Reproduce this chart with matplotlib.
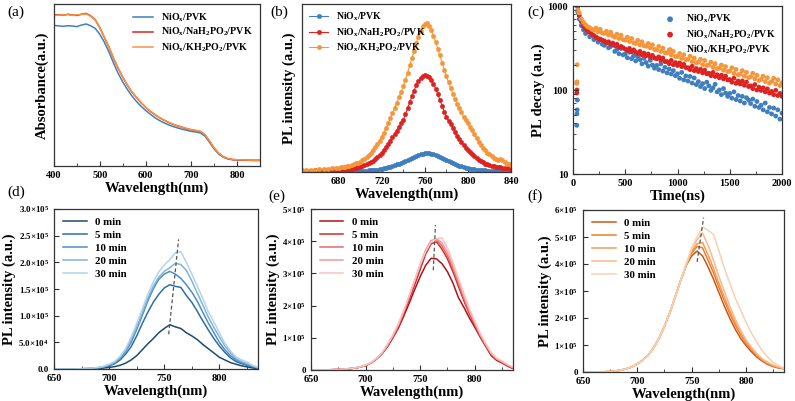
import numpy as np
import matplotlib.pyplot as plt
from matplotlib.ticker import MultipleLocator, LogLocator, NullFormatter

plt.rcParams['font.family'] = ['Liberation Serif', 'DejaVu Serif']
plt.rcParams['font.weight'] = 'bold'
plt.rcParams['axes.labelweight'] = 'bold'
plt.rcParams['mathtext.fontset'] = 'custom'
plt.rcParams['mathtext.rm'] = 'Liberation Serif:bold'
plt.rcParams['mathtext.bf'] = 'Liberation Serif:bold'
plt.rcParams['mathtext.it'] = 'Liberation Serif:bold:italic'

## ---- labels
lab_pvk = 'NiO$_\\mathrm{x}$/PVK'
lab_na = 'NiO$_\\mathrm{x}$/NaH$_\\mathrm{2}$PO$_\\mathrm{2}$/PVK'
lab_k = 'NiO$_\\mathrm{x}$/KH$_\\mathrm{2}$PO$_\\mathrm{2}$/PVK'
time_labels = ['0 min', '5 min', '10 min', '20 min', '30 min']

## ---- (a) absorbance
abs_wl = np.arange(400, 851, 10)
abs_pvk = [.864, .861, .858, .862, .86, .856, .866, .873, .862, .845,
           .808, .757, .695, .625, .56, .505, .458, .416, .381, .35,
           .324, .3, .278, .26, .245, .232, .221, .212, .204, .197,
           .19, .186, .18, .16, .12, .078, .046, .026, .015, .01,
           .008, .007, .006, .006, .005, .005]
abs_na = [.93, .932, .928, .935, .93, .927, .935, .94, .925, .9,
          .85, .787, .726, .655, .592, .536, .485, .441, .406, .373,
          .344, .318, .297, .278, .262, .247, .235, .225, .216, .207,
          .2, .195, .189, .168, .127, .083, .05, .028, .016, .011,
          .009, .008, .007, .006, .006, .006]
abs_k = [.926, .93, .93, .932, .928, .931, .933, .937, .922, .898,
         .851, .788, .727, .656, .593, .537, .486, .442, .407, .374,
         .345, .319, .298, .279, .263, .248, .236, .226, .217, .208,
         .201, .196, .19, .169, .128, .084, .051, .029, .017, .012,
         .01, .009, .008, .007, .007, .007]

## ---- (b) steady-state PL
pl_wl = np.concatenate([np.arange(646, 680, 4), np.arange(680, 841, 2)])
pl_pvk = [.003, .003, .003, .003, .003, .003, .003, .003, .003,
          .003, .003, .003, .004, .004, .004, .004, .005, .005, .006,
          .006, .007, .007, .008, .009, .01, .011, .012, .014, .016,
          .018, .021, .024, .027, .031, .035, .04, .045, .05, .055,
          .06, .066, .072, .078, .084, .09, .096, .101, .106, .11,
          .113, .114, .112, .109, .105, .1, .095, .089, .083, .077,
          .071, .065, .059, .053, .048, .043, .038, .034, .03, .026,
          .023, .02, .018, .016, .014, .012, .011, .01, .009, .008,
          .007, .007, .006, .006, .005, .005, .005, .005, .005, .004,
          .004]
pl_na = [.008, .008, .008, .009, .009, .01, .01, .011, .012,
         .012, .013, .014, .015, .016, .018, .019, .021, .024, .027,
         .03, .034, .039, .045, .052, .06, .068, .078, .089, .101,
         .115, .13, .147, .166, .186, .207, .225, .247, .27, .29,
         .31, .345, .38, .415, .45, .485, .515, .54, .558, .57,
         .576, .574, .565, .548, .525, .497, .465, .43, .395, .36,
         .33, .305, .283, .26, .237, .215, .195, .178, .16, .145,
         .13, .117, .105, .094, .083, .074, .065, .057, .05, .045,
         .04, .036, .033, .03, .028, .027, .025, .023, .022, .021,
         .02]
pl_k = [.012, .012, .013, .014, .015, .017, .019, .021, .023,
        .025, .027, .029, .031, .034, .037, .041, .046, .051, .056,
        .062, .07, .079, .089, .1, .115, .13, .147, .166, .187,
        .21, .235, .262, .29, .32, .35, .382, .413, .445, .477,
        .51, .55, .59, .635, .678, .72, .765, .805, .84, .867,
        .882, .884, .87, .845, .81, .775, .735, .695, .65, .61,
        .57, .535, .5, .465, .435, .405, .38, .355, .33, .31,
        .29, .27, .25, .225, .2, .18, .16, .145, .13, .115,
        .105, .094, .085, .077, .072, .075, .07, .058, .05, .046,
        .042]

## ---- (c) TRPL decay
rise_t_pvk = [36, 38, 40, 42, 46]
rise_pvk = [38, 52, 58, 76, 850]
rise_t_na = [36, 38, 44]
rise_na = [92, 100, 980]
rise_t_k = [36, 38, 40, 46]
rise_k = [120, 125, 200, 900]
decay_t = np.arange(60, 2001, 20)
decay_pvk = [700, 585,
             520, 470, 492, 430, 448,
             398, 425, 372, 405, 352,
             340, 362, 318, 330, 352,
             288, 305, 270, 312, 262,
             268, 242, 282, 236, 255,
             222, 248, 230, 205, 238,
             212, 192, 226, 198, 182,
             196, 175, 204, 168, 186,
             160, 178, 155, 170, 148,
             156, 138, 162, 132, 147,
             128, 145, 121, 139, 116,
             126, 110, 119, 104, 124,
             112, 99, 106, 117, 95,
             100, 88, 104, 92, 84,
             91, 80, 95, 77, 86,
             74, 84, 70, 81, 76,
             69, 78, 64, 73, 62,
             66, 58, 70, 55, 62,
             52, 61, 49, 58, 45,
             53]
decay_na = [770, 650,
            575, 540, 505, 486, 462,
            445, 425, 410, 398, 392,
            384, 366, 375, 350, 362,
            338, 350, 322, 330, 318,
            306, 296, 312, 285, 300,
            282, 270, 288, 262, 275,
            256, 268, 245, 258, 240,
            236, 248, 226, 240, 218,
            218, 206, 225, 200, 212,
            196, 210, 190, 202, 185,
            184, 175, 192, 170, 180,
            166, 176, 160, 172, 156,
            158, 148, 162, 145, 152,
            140, 150, 136, 146, 132,
            133, 124, 138, 120, 128,
            118, 128, 114, 124, 110,
            112, 104, 116, 100, 108,
            99, 106, 95, 103, 92,
            96, 88, 99, 86, 91,
            84]
decay_k = [830, 700,
           640, 598, 565, 550, 528,
           515, 545, 490, 528, 478,
           472, 500, 452, 488, 440,
           425, 462, 410, 448, 398,
           392, 425, 378, 410, 365,
           358, 390, 345, 375, 336,
           332, 358, 318, 345, 305,
           300, 330, 288, 315, 278,
           276, 298, 262, 288, 252,
           250, 272, 238, 262, 230,
           232, 252, 218, 240, 212,
           214, 232, 200, 224, 196,
           198, 214, 186, 206, 180,
           182, 198, 172, 190, 166,
           168, 184, 158, 176, 152,
           155, 170, 146, 162, 140,
           144, 158, 136, 150, 130,
           134, 146, 126, 140, 121,
           126, 138, 118, 132, 113,
           122]

## ---- (d)(e)(f) PL vs time, units of 1e5
t_wl = np.arange(650, 836, 5)
d_pl = [
    [0, 0, 0, 0, .002, .003, .004, .006, .01, .018,
     .03, .045, .07, .11, .17, .25, .36, .47, .57, .68,
     .76, .83, .79, .76, .68, .62, .55, .46, .38, .3,
     .22, .17, .12, .09, .06, .04, .02, .01],
    [0, 0, 0, 0, .002, .004, .007, .012, .02, .035,
     .06, .1, .17, .28, .42, .62, .85, 1.06, 1.25, 1.4,
     1.52, 1.58, 1.55, 1.53, 1.38, 1.25, 1.08, .9, .73, .57,
     .43, .31, .21, .14, .1, .07, .04, .02],
    [0, 0, 0, 0, .002, .005, .008, .014, .024, .04,
     .07, .12, .2, .33, .5, .74, 1.0, 1.27, 1.5, 1.68,
     1.78, 1.83, 1.78, 1.7, 1.58, 1.44, 1.27, 1.06, .86, .68,
     .5, .36, .25, .17, .12, .08, .05, .02],
    [0, 0, 0, 0, .002, .005, .009, .015, .026, .045,
     .08, .13, .22, .36, .55, .79, 1.05, 1.32, 1.55, 1.72,
     1.83, 1.9, 1.98, 1.96, 1.85, 1.65, 1.42, 1.2, .97, .78,
     .6, .43, .3, .2, .14, .1, .06, .02],
    [0, 0, 0, 0, .003, .006, .01, .017, .03, .05,
     .09, .14, .24, .38, .6, .85, 1.12, 1.4, 1.63, 1.82,
     1.95, 2.05, 2.18, 2.2, 2.0, 1.78, 1.55, 1.32, 1.07, .88,
     .68, .48, .34, .23, .17, .13, .07, .03],
]
e_pl = [
    [0, 0, .002, .005, .01, .015, .025, .04, .06, .09,
     .14, .22, .34, .5, .72, 1.0, 1.3, 1.68, 2.08, 2.5,
     2.9, 3.25, 3.47, 3.45, 3.3, 3.05, 2.7, 2.25, 1.95, 1.62,
     1.33, 1.02, .74, .45, .3, .22, .12, .05],
    [0, 0, .002, .005, .01, .016, .026, .041, .061, .092,
     .14, .22, .345, .51, .74, 1.03, 1.35, 1.75, 2.2, 2.65,
     3.12, 3.6, 3.92, 3.98, 3.75, 3.45, 3.05, 2.6, 2.15, 1.75,
     1.4, 1.05, .75, .48, .32, .24, .13, .05],
    [0, 0, .002, .005, .01, .016, .026, .042, .062, .094,
     .145, .225, .35, .52, .76, 1.05, 1.38, 1.8, 2.27, 2.75,
     3.25, 3.72, 4.02, 4.05, 3.85, 3.55, 3.15, 2.7, 2.22, 1.8,
     1.43, 1.08, .78, .5, .34, .25, .15, .07],
    [0, 0, .002, .005, .011, .017, .027, .043, .063, .095,
     .147, .228, .355, .525, .77, 1.06, 1.4, 1.82, 2.3, 2.78,
     3.27, 3.7, 4.0, 4.08, 3.95, 3.65, 3.25, 2.78, 2.3, 1.85,
     1.47, 1.1, .8, .52, .35, .26, .16, .08],
    [0, 0, .002, .006, .011, .018, .028, .045, .066, .1,
     .152, .235, .365, .54, .8, 1.1, 1.44, 1.86, 2.33, 2.8,
     3.28, 3.68, 3.98, 4.08, 4.1, 3.78, 3.35, 2.85, 2.38, 1.92,
     1.52, 1.14, .83, .55, .37, .28, .17, .08],
]
f_pl = [
    [0, 0, 0, .005, .01, .02, .04, .07, .12, .19,
     .3, .44, .62, .9, 1.25, 1.7, 2.2, 2.8, 3.4, 3.95,
     4.3, 4.48, 4.3, 3.9, 3.45, 2.95, 2.45, 2.0, 1.6, 1.25,
     .98, .75, .55, .4, .28, .2, .15, .12],
    [0, 0, 0, .005, .01, .02, .04, .07, .12, .19,
     .3, .44, .62, .9, 1.25, 1.7, 2.2, 2.8, 3.4, 3.96,
     4.4, 4.65, 4.6, 4.15, 3.68, 3.15, 2.65, 2.17, 1.75, 1.38,
     1.07, .82, .6, .43, .3, .22, .16, .12],
    [0, 0, 0, .005, .01, .02, .04, .07, .12, .19,
     .3, .44, .62, .9, 1.25, 1.7, 2.2, 2.8, 3.4, 3.97,
     4.45, 4.75, 4.8, 4.35, 3.85, 3.3, 2.78, 2.28, 1.84, 1.45,
     1.12, .86, .63, .45, .32, .23, .17, .13],
    [0, 0, 0, .005, .01, .02, .04, .07, .12, .19,
     .3, .44, .62, .9, 1.25, 1.7, 2.2, 2.8, 3.4, 3.98,
     4.55, 4.9, 5.15, 4.7, 4.15, 3.55, 3.0, 2.45, 1.97, 1.55,
     1.2, .92, .68, .49, .36, .26, .19, .14],
    [0, 0, 0, .005, .01, .02, .04, .07, .12, .19,
     .3, .44, .62, .9, 1.25, 1.7, 2.2, 2.8, 3.4, 4.0,
     4.6, 5.0, 5.37, 5.25, 5.1, 4.5, 3.85, 3.3, 2.75, 2.3,
     1.85, 1.45, 1.1, .78, .55, .36, .25, .12],
]
## peak shift guide lines
d_guide_x, d_guide_y = [754, 763], [0.65, 2.43]
e_guide_x, e_guide_y = [762, 764], [3.1, 4.5]
f_guide_x, f_guide_y = [755, 761], [4.08, 5.72]

d_yticks = [0, 0.5, 1, 1.5, 2, 2.5, 3]
d_ylabels = ['0.0', '5.0\u00d710$^\\mathrm{4}$', '1.0\u00d710$^\\mathrm{5}$', '1.5\u00d710$^\\mathrm{5}$',
             '2.0\u00d710$^\\mathrm{5}$', '2.5\u00d710$^\\mathrm{5}$', '3.0\u00d710$^\\mathrm{5}$']
e_yticks = [0, 1, 2, 3, 4, 5]
e_ylabels = ['0'] + ['%d\u00d710$^\\mathrm{5}$' % v for v in e_yticks[1:]]
f_yticks = [0, 1, 2, 3, 4, 5, 6]
f_ylabels = ['0'] + ['%d\u00d710$^\\mathrm{5}$' % v for v in f_yticks[1:]]

blue = '#3f7fc0'
red = '#dd2222'
orange = '#f5963a'
d_colors = ['#1d4a70', '#2f6ea5', '#4d8ec4', '#80b3da', '#b2d4ec']
e_colors = ['#b01218', '#d42a2c', '#e8696b', '#f09c9b', '#f6c4c2']
f_colors = ['#c9571b', '#ef7c27', '#f39c58', '#f6b98a', '#f9d1b2']

W, H = 795, 401


def box(l, t, r, b):
    return [l / W, 1 - b / H, (r - l) / W, (b - t) / H]


def style(ax):
    for s in ax.spines.values():
        s.set_color('#333333')
        s.set_linewidth(0.9)
    ax.tick_params(which='both', direction='in', labelsize=7.5, color='#333333')
    ax.tick_params(which='major', length=3.5)
    ax.tick_params(which='minor', length=2)


fig = plt.figure(figsize=(7.95, 4.01), dpi=100)

# (a)
ax = fig.add_axes(box(54, 4, 260, 166))
ax.plot(abs_wl, abs_pvk, color=blue, lw=1.1, label=lab_pvk)
ax.plot(abs_wl, abs_na, color=red, lw=1.1, label=lab_na)
ax.plot(abs_wl, abs_k, color=orange, lw=1.1, label=lab_k)
ax.set_xlim(400, 850)
ax.set_ylim(-0.03, 1.0)
ax.xaxis.set_major_locator(MultipleLocator(100))
ax.xaxis.set_minor_locator(MultipleLocator(50))
ax.set_yticks([])
style(ax)
ax.set_xlabel('Wavelength(nm)', fontsize=10.5, labelpad=1)
ax.set_ylabel('Absorbance(a.u.)', fontsize=10.5, labelpad=4)
ax.legend(loc='upper right', frameon=False, fontsize=7.2, handlelength=2.0,
          labelspacing=0.25, borderaxespad=0.3)

# (b)
ax = fig.add_axes(box(302, 4, 511, 172))
for y, c, lab in [(pl_pvk, blue, lab_pvk), (pl_na, red, lab_na), (pl_k, orange, lab_k)]:
    ax.plot(pl_wl, y, color=c, lw=0.8, marker='o', ms=3.2, mec=c, mfc=c, mew=0.3, label=lab)
ax.set_xlim(646, 840)
ax.set_ylim(0, 1)
ax.xaxis.set_major_locator(MultipleLocator(40))
ax.xaxis.set_minor_locator(MultipleLocator(20))
ax.set_yticks([])
style(ax)
ax.set_xlabel('Wavelength(nm)', fontsize=10.5, labelpad=1)
ax.set_ylabel('PL intensity (a.u.)', fontsize=10.5, labelpad=4)
ax.legend(loc='upper left', frameon=False, fontsize=7, handlelength=2.0,
          labelspacing=0.3, borderaxespad=0.3)

# (c)
ax = fig.add_axes(box(573, 6, 782, 174))
for tr, vr, td, vd, c, lab in [(rise_t_pvk, rise_pvk, decay_t, decay_pvk, blue, lab_pvk),
                               (rise_t_na, rise_na, decay_t, decay_na, red, lab_na),
                               (rise_t_k, rise_k, decay_t, decay_k, orange, lab_k)]:
    ax.scatter(np.concatenate([tr, td]), np.concatenate([vr, vd]), s=12, color=c,
               edgecolors='none', label=lab)
ax.set_yscale('log')
ax.set_xlim(0, 2000)
ax.set_ylim(10, 1000)
ax.xaxis.set_major_locator(MultipleLocator(500))
ax.xaxis.set_minor_locator(MultipleLocator(250))
ax.yaxis.set_minor_locator(LogLocator(base=10, subs=np.arange(2, 10)))
ax.yaxis.set_minor_formatter(NullFormatter())
ax.set_yticks([10, 100, 1000])
ax.set_yticklabels(['10', '100', '1000'])
style(ax)
ax.set_xlabel('Time(ns)', fontsize=10.5, labelpad=1)
ax.set_ylabel('PL decay (a.u.)', fontsize=10.5, labelpad=2)
ax.legend(loc='upper right', frameon=False, fontsize=7, handletextpad=0.6,
          labelspacing=0.3, borderaxespad=0.3, markerscale=1.2)

# (d)(e)(f)
panels = [
    (box(54, 209, 258, 369), d_pl, d_colors, d_guide_x, d_guide_y, 3.0, d_yticks, d_ylabels),
    (box(311, 209, 513, 370), e_pl, e_colors, e_guide_x, e_guide_y, 5.0, e_yticks, e_ylabels),
    (box(583, 210, 784, 372), f_pl, f_colors, f_guide_x, f_guide_y, 6.0, f_yticks, f_ylabels),
]
for rect, series, cols, gx, gy, ytop, yt, yl in panels:
    ax = fig.add_axes(rect)
    for y, c, lab in zip(series, cols, time_labels):
        ax.plot(t_wl, np.array(y) * 1e5, color=c, lw=1.1, label=lab)
    ax.plot(gx, np.array(gy) * 1e5, color='#555555', lw=0.9, ls=(0, (3, 2)))
    ax.set_xlim(650, 835)
    ax.set_ylim(0, ytop * 1e5)
    ax.xaxis.set_major_locator(MultipleLocator(50))
    ax.xaxis.set_minor_locator(MultipleLocator(25))
    ax.set_yticks(np.array(yt) * 1e5)
    ax.set_yticklabels(yl)
    style(ax)
    ax.tick_params(axis='y', labelsize=6.5)
    ax.set_xlabel('Wavelength(nm)', fontsize=10.5, labelpad=1)
    ax.set_ylabel('PL intensity (a.u.)', fontsize=10.5, labelpad=2)
    ax.legend(loc='upper left', frameon=False, fontsize=7.8, handlelength=2.2,
              labelspacing=0.3, borderaxespad=0.4)

for txt, x, y in [('(a)', 7, 12), ('(b)', 270, 12), ('(c)', 527, 12),
                  ('(d)', 7, 192), ('(e)', 268, 196), ('(f)', 527, 196)]:
    fig.text(x / W, 1 - y / H, txt, fontsize=11, fontweight='normal', va='center')

fig.savefig('out.png', dpi=100)
